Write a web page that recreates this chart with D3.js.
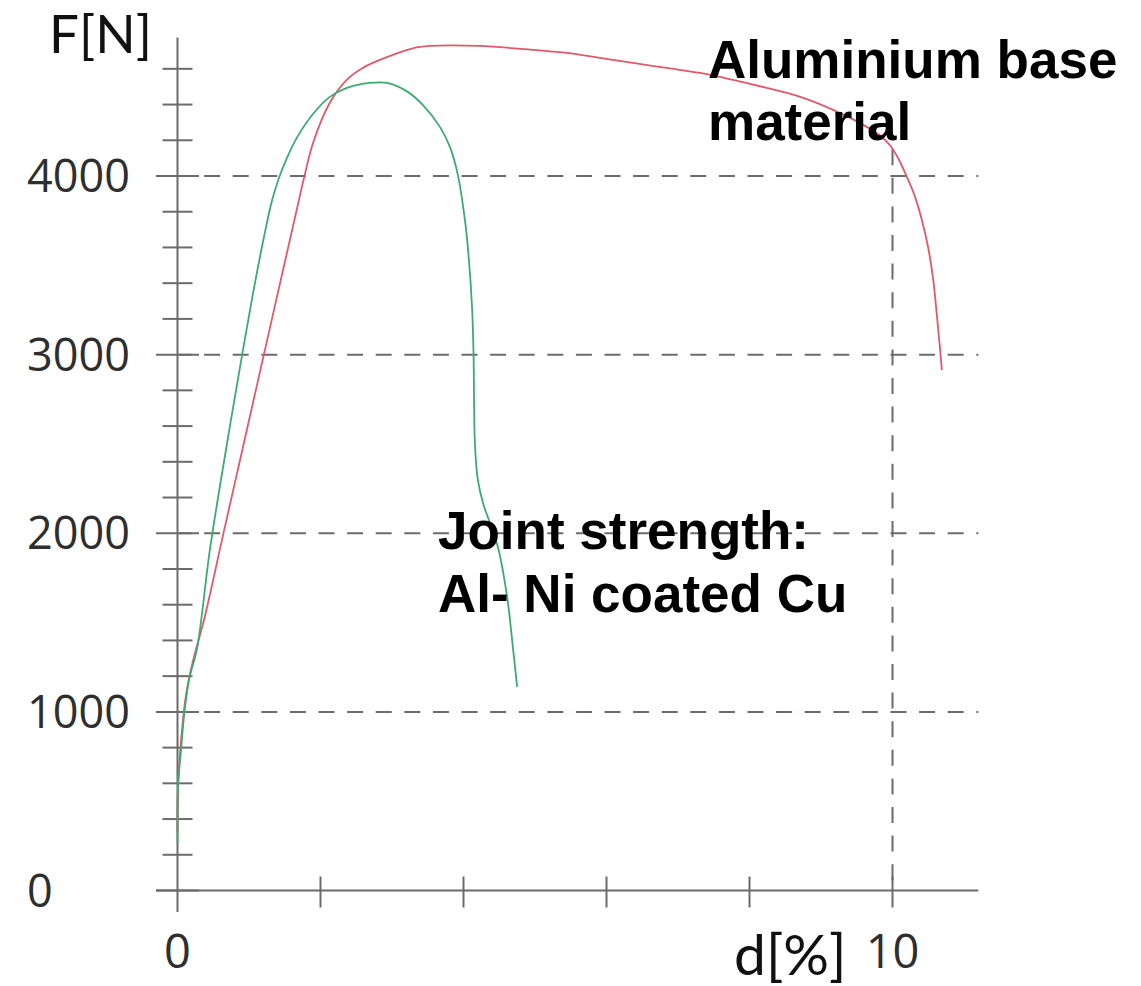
<!DOCTYPE html>
<html>
<head>
<meta charset="utf-8">
<script src="https://cdn.jsdelivr.net/npm/d3@7"></script>
<style>
  body { margin: 0; background: #fff; }
  svg { display: block; }
</style>
</head>
<body>
<div id="chart"></div>
<script>
// tensile test curves: d[%] vs F[N]
var alDisp  = [0, 0.01, 0.08, 0.13, 0.22, 0.38, 0.64, 0.90, 1.16, 1.42, 1.67, 1.77, 1.90, 2.13, 2.37, 2.59, 2.83, 3.29, 3.53, 4.23, 4.97, 5.45, 5.91, 6.37, 6.84, 7.31, 7.77, 8.24, 8.71, 9.17, 9.64, 9.83, 9.97, 10.09, 10.20, 10.31, 10.41, 10.50, 10.57, 10.62, 10.66, 10.69];
var alForce = [330, 600, 970, 1120, 1290, 1530, 1995, 2455, 2915, 3375, 3815, 3990, 4190, 4410, 4540, 4605, 4650, 4715, 4728, 4728, 4706, 4689, 4661, 4633, 4605, 4577, 4538, 4493, 4443, 4370, 4275, 4225, 4169, 4091, 3995, 3889, 3755, 3597, 3418, 3222, 3054, 2914];

var jointDisp  = [0, 0.01, 0.05, 0.10, 0.17, 0.27, 0.45, 0.60, 0.75, 0.90, 1.05, 1.20, 1.32, 1.42, 1.53, 1.67, 1.90, 2.13, 2.37, 2.69, 2.93, 3.22, 3.43, 3.67, 3.81, 3.92, 4.02, 4.07, 4.12, 4.14, 4.16, 4.20, 4.28, 4.37, 4.48, 4.61, 4.69, 4.75];
var jointForce = [266, 600, 787, 1010, 1197, 1347, 1900, 2280, 2640, 2990, 3330, 3640, 3860, 3990, 4100, 4215, 4350, 4443, 4493, 4521, 4521, 4471, 4398, 4275, 4163, 4008, 3754, 3558, 3261, 3009, 2500, 2300, 2160, 2058, 1924, 1644, 1364, 1140];

var yMajor = [0, 1000, 2000, 3000, 4000];
var yMinor = [200, 400, 600, 800, 1200, 1400, 1600, 1800, 2200, 2400, 2600, 2800, 3200, 3400, 3600, 3800, 4200, 4400, 4600];
var yGrid = [1000, 2000, 3000, 4000];
var xTicks = [2, 4, 6, 8, 10];
var xLabels = [0, 10];

var width = 1141, height = 986;

var svg = d3.select("#chart")
  .append("svg")
    .attr("width", width)
    .attr("height", height);

var x = d3.scaleLinear().domain([0, 10]).range([177.5, 892.5]);
var y = d3.scaleLinear().domain([0, 4000]).range([890.5, 176]);

var axisCol = "#6b6b6b";

// dashed grid
svg.append("g").selectAll("line")
  .data(yGrid)
  .join("line")
    .attr("x1", x(0)).attr("x2", x(11.2))
    .attr("y1", d => y(d)).attr("y2", d => y(d))
    .attr("stroke", axisCol)
    .attr("stroke-width", 2)
    .attr("stroke-dasharray", "16,12.6")
    .attr("stroke-dashoffset", 2);

svg.append("line")
  .attr("x1", x(10)).attr("x2", x(10))
  .attr("y1", y(4150)).attr("y2", y(0))
  .attr("stroke", axisCol)
  .attr("stroke-width", 2)
  .attr("stroke-dasharray", "16,12.6");

// axis lines
svg.append("line")
  .attr("x1", x(-0.3)).attr("x2", x(11.2))
  .attr("y1", y(0)).attr("y2", y(0))
  .attr("stroke", axisCol).attr("stroke-width", 2);
svg.append("line")
  .attr("x1", x(0)).attr("x2", x(0))
  .attr("y1", y(-120)).attr("y2", y(4775))
  .attr("stroke", axisCol).attr("stroke-width", 2);

// y ticks
svg.append("g").selectAll("line")
  .data(yMajor)
  .join("line")
    .attr("x1", x(0) - 21.5).attr("x2", x(0) + 21.5)
    .attr("y1", d => y(d)).attr("y2", d => y(d))
    .attr("stroke", axisCol).attr("stroke-width", 2);
svg.append("g").selectAll("line")
  .data(yMinor)
  .join("line")
    .attr("x1", x(0) - 15).attr("x2", x(0) + 15)
    .attr("y1", d => y(d)).attr("y2", d => y(d))
    .attr("stroke", axisCol).attr("stroke-width", 2);

// x ticks
svg.append("g").selectAll("line")
  .data(xTicks)
  .join("line")
    .attr("x1", d => x(d)).attr("x2", d => x(d))
    .attr("y1", y(0) - 14).attr("y2", y(0) + 17)
    .attr("stroke", axisCol).attr("stroke-width", 2);

// tick labels
svg.append("g").selectAll("text")
  .data(yMajor)
  .join("text")
    .attr("x", 27)
    .attr("y", d => y(d))
    .attr("dy", "0.36em")
    .style("font-family", "'Open Sans', sans-serif")
    .style("font-size", "45px")
    .style("fill", "#2e2e2e")
    .text(d => d);

svg.append("g").selectAll("text")
  .data(xLabels)
  .join("text")
    .attr("x", d => x(d))
    .attr("y", 968)
    .attr("text-anchor", "middle")
    .style("font-family", "'Open Sans', sans-serif")
    .style("font-size", "47px")
    .style("fill", "#2e2e2e")
    .text(d => d);

// axis titles
svg.append("text")
  .attr("x", 49).attr("y", 53)
  .style("font-family", "Lato, sans-serif")
  .style("font-size", "53px")
  .style("fill", "#111")
  .text("F[N]");

svg.append("text")
  .attr("x", 734).attr("y", 975)
  .style("font-family", "Lato, sans-serif")
  .style("font-size", "57px")
  .style("fill", "#111")
  .text("d[%]");

// curves
var line = d3.line()
  .x(d => x(d[0]))
  .y(d => y(d[1]))
  .curve(d3.curveCatmullRom.alpha(0.5));

svg.append("path")
  .datum(d3.zip(alDisp, alForce))
  .attr("fill", "none")
  .attr("stroke", "#df5a6a")
  .attr("stroke-width", 1.8)
  .attr("d", line);

svg.append("path")
  .datum(d3.zip(jointDisp, jointForce))
  .attr("fill", "none")
  .attr("stroke", "#3daa72")
  .attr("stroke-width", 1.8)
  .attr("d", line);

// annotations
var note = svg.append("g")
  .style("font-family", "'Liberation Sans', Arial, sans-serif")
  .style("font-weight", "bold")
  .style("font-size", "53px")
  .style("fill", "#000");

note.append("text").attr("x", 708).attr("y", 78).text("Aluminium base");
note.append("text").attr("x", 708).attr("y", 140).text("material");
note.append("text").attr("x", 438).attr("y", 549).text("Joint strength:");
note.append("text").attr("x", 438).attr("y", 612).text("Al- Ni coated Cu");
</script>
</body>
</html>
